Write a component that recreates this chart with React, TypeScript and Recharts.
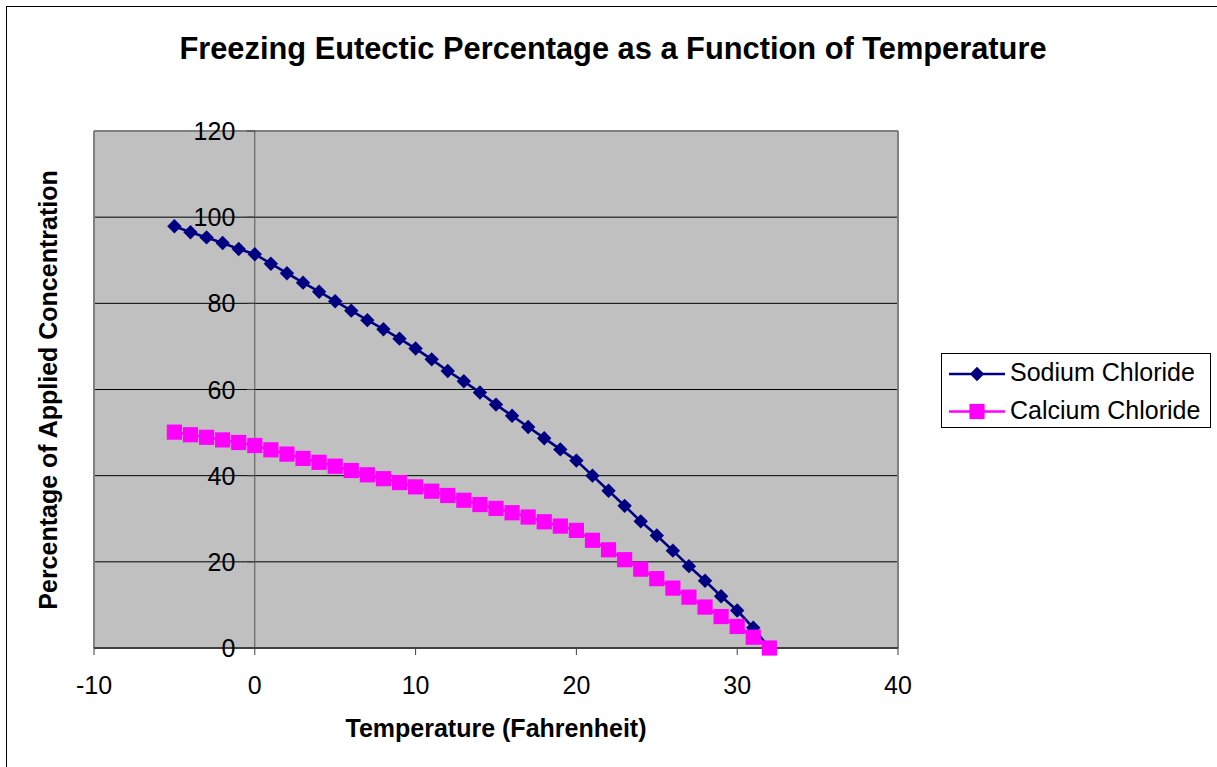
import React from "react";
import {
  LineChart,
  Line,
  XAxis,
  YAxis,
  CartesianGrid,
  ReferenceLine,
} from "recharts";

const temps = [
  -5, -4, -3, -2, -1, 0, 1, 2, 3, 4, 5, 6, 7, 8, 9, 10, 11, 12, 13, 14, 15, 16,
  17, 18, 19, 20, 21, 22, 23, 24, 25, 26, 27, 28, 29, 30, 31, 32,
];
const sodium = [
  97.9, 96.5, 95.3, 94.0, 92.6, 91.4, 89.2, 87.0, 84.8, 82.7, 80.5, 78.3, 76.1,
  74.0, 71.8, 69.5, 67.0, 64.3, 61.9, 59.3, 56.5, 53.9, 51.3, 48.7, 46.1, 43.5,
  40.0, 36.5, 33.0, 29.4, 26.1, 22.6, 19.0, 15.6, 12.0, 8.7, 4.7, 0,
];
const calcium = [
  50.1, 49.5, 48.9, 48.3, 47.7, 47.0, 46.0, 45.0, 44.0, 43.1, 42.2, 41.2, 40.2,
  39.3, 38.4, 37.4, 36.4, 35.4, 34.3, 33.3, 32.4, 31.4, 30.4, 29.3, 28.3, 27.3,
  25.0, 22.8, 20.5, 18.3, 16.1, 13.9, 11.8, 9.5, 7.3, 5.0, 2.5, 0,
];
const xTicks = [-10, 0, 10, 20, 30, 40];
const yTicks = [0, 20, 40, 60, 80, 100, 120];
const gridValues = [20, 40, 60, 80, 100];

const NAVY = "#000080";
const PINK = "#FF00FF";
const FONT = "'Liberation Sans', Arial, sans-serif";

const W = 1217;
const H = 767;
const PLOT_LEFT = 94;
const PLOT_RIGHT = 898;
const X_MIN = -10;
const X_MAX = 40;
// x pixel where the value axis crosses (temperature 0)
const Y_AXIS_X = PLOT_LEFT + ((0 - X_MIN) / (X_MAX - X_MIN)) * (PLOT_RIGHT - PLOT_LEFT);

const data = temps.map((t, i) => ({ t, sodium: sodium[i], calcium: calcium[i] }));

const series = [
  { key: "sodium", name: "Sodium Chloride", color: NAVY, marker: "diamond" },
  { key: "calcium", name: "Calcium Chloride", color: PINK, marker: "square" },
];

function Marker({ cx, cy, kind, color }: any) {
  if (cx == null || cy == null) return null;
  if (kind === "diamond") {
    const r = 7.2;
    return (
      <path
        d={`M${cx},${cy - r}L${cx + r},${cy}L${cx},${cy + r}L${cx - r},${cy}Z`}
        fill={color}
      />
    );
  }
  const s = 7.6;
  return <rect x={cx - s} y={cy - s} width={s * 2} height={s * 2} fill={color} />;
}

function YTick(props: any) {
  const { y, payload } = props;
  return (
    <g>
      <line x1={Y_AXIS_X - 8} x2={Y_AXIS_X} y1={y} y2={y} stroke="#404040" strokeWidth={1} />
      <text
        x={Y_AXIS_X - 19.5}
        y={y}
        dy={9}
        textAnchor="end"
        fontSize={25}
        fontFamily={FONT}
        fill="#000"
      >
        {payload.value}
      </text>
    </g>
  );
}

export default function App() {
  return (
    <div
      style={{
        position: "absolute",
        left: 0,
        top: 0,
        width: W,
        height: H,
        overflow: "hidden",
        background: "#fff",
        fontFamily: FONT,
      }}
    >
      <div
        style={{
          position: "absolute",
          left: 6,
          top: 6,
          width: W + 20,
          height: H + 20,
          borderLeft: "1px solid #000",
          borderTop: "1px solid #000",
        }}
      />
      <LineChart
        width={W}
        height={H}
        data={data}
        margin={{ top: 131, left: PLOT_LEFT - 1, right: W - PLOT_RIGHT, bottom: 89 }}
        style={{ position: "absolute", left: 0, top: 0 }}
      >
        <CartesianGrid
          fill="#C0C0C0"
          fillOpacity={1}
          vertical={false}
          horizontalValues={gridValues}
          stroke="#000"
          strokeWidth={1}
        />
        <XAxis
          dataKey="t"
          type="number"
          domain={[X_MIN, X_MAX]}
          ticks={xTicks}
          allowDataOverflow
          height={30}
          axisLine={{ stroke: "#404040", strokeWidth: 2 }}
          tickLine={{ stroke: "#404040", strokeWidth: 1 }}
          tickSize={7}
          tickMargin={21}
          tick={{ fontSize: 25, fill: "#000", fontFamily: FONT }}
        />
        <YAxis
          type="number"
          domain={[0, 120]}
          ticks={yTicks}
          width={1}
          axisLine={false}
          tickLine={false}
          interval={0}
          tick={(p: any) => <YTick key={`yt-${p.index}`} {...p} />}
        />
        <ReferenceLine x={X_MIN} stroke="#808080" strokeWidth={2} />
        <ReferenceLine x={X_MAX} stroke="#808080" strokeWidth={2} />
        <ReferenceLine y={120} stroke="#808080" strokeWidth={2} />
        <ReferenceLine x={0} stroke="#555" strokeWidth={1} />
        {series.map((s) => (
          <Line
            key={s.key}
            dataKey={s.key}
            name={s.name}
            stroke={s.color}
            strokeWidth={2.6}
            isAnimationActive={false}
            activeDot={false}
            dot={(p: any) => (
              <Marker key={`${s.key}-${p.index}`} cx={p.cx} cy={p.cy} kind={s.marker} color={s.color} />
            )}
          />
        ))}
      </LineChart>
      <svg
        width={W}
        height={H}
        style={{ position: "absolute", left: 0, top: 0, pointerEvents: "none" }}
      >
        <text
          x={613}
          y={59}
          textAnchor="middle"
          fontSize={30.8}
          fontWeight="bold"
          fontFamily={FONT}
          fill="#000"
        >
          Freezing Eutectic Percentage as a Function of Temperature
        </text>
        <text
          x={496}
          y={737}
          textAnchor="middle"
          fontSize={25}
          fontWeight="bold"
          fontFamily={FONT}
          fill="#000"
        >
          Temperature (Fahrenheit)
        </text>
        <text
          transform="translate(57,390) rotate(-90)"
          textAnchor="middle"
          fontSize={25}
          fontWeight="bold"
          fontFamily={FONT}
          fill="#000"
        >
          Percentage of Applied Concentration
        </text>
      </svg>
      <div
        style={{
          position: "absolute",
          left: 941,
          top: 353,
          width: 270,
          height: 75,
          border: "1px solid #000",
          background: "#fff",
          boxSizing: "border-box",
        }}
      >
        <svg width={270} height={75} style={{ display: "block" }}>
          {series.map((s, i) => {
            const cy = 20 + i * 37.5;
            return (
              <g key={s.key}>
                <line x1={7} x2={63} y1={cy} y2={cy} stroke={s.color} strokeWidth={2.6} />
                <Marker cx={35} cy={cy} kind={s.marker} color={s.color} />
                <text
                  x={68}
                  y={cy + 6.5 + i * 0.5}
                  fontSize={25}
                  fontFamily={FONT}
                  fill="#000"
                >
                  {s.name}
                </text>
              </g>
            );
          })}
        </svg>
      </div>
    </div>
  );
}
